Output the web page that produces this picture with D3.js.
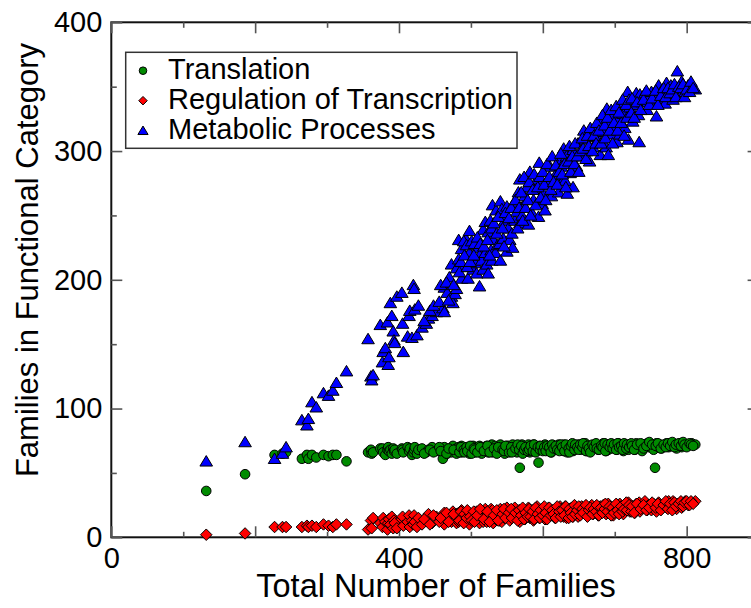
<!DOCTYPE html>
<html>
<head>
<meta charset="utf-8">
<script src="https://cdn.jsdelivr.net/npm/d3@7"></script>
<style>
  html, body { margin: 0; padding: 0; background: #fff; }
  svg { display: block; }
  text { font-family: "Liberation Sans", Arial, Helvetica, sans-serif; fill: #000; }
</style>
</head>
<body>
<svg id="chart" width="751" height="608"></svg>
<script>
// One entry per genome: total number of families, and the number of
// families in each functional category.
const totalFamilies = [
  132,186,227,238,243,265,272,274,279,285,
  295,302,308,313,327,357,361,362,364,374,
  377,378,381,384,385,386,388,390,392,393,
  394,397,404,405,406,412,414,415,418,420,
  421,422,425,427,432,438,441,446,452,461,
  463,463,467,470,473,473,475,478,480,480,
  483,483,487,487,489,493,496,498,498,503,
  506,508,510,512,512,515,517,517,520,520,
  522,524,524,527,528,529,529,530,531,534,
  535,537,540,541,541,543,545,547,550,550,
  552,554,558,560,561,564,566,568,568,571,
  573,575,578,580,582,585,587,589,592,594,
  595,599,601,603,608,610,612,617,622,624,
  626,629,629,631,633,634,638,640,642,642,
  647,649,654,657,659,661,665,668,670,673,
  677,680,682,684,688,689,691,691,696,698,
  700,703,705,707,710,712,714,718,719,721,
  725,728,730,733,734,735,738,742,745,747,
  751,754,756,758,761,763,765,770,772,775,
  778,781,786,787,791,793,798,802,807,812,
  435,443,448,456,458,466,469,476,484,486,
  490,491,494,495,499,501,504,505,509,513,
  518,523,526,532,536,538,544,546,548,553,
  556,557,562,565,567,570,572,574,576,579,
  581,583,586,588,590,593,596,597,600,602,
  604,606,609,611,613,615,618,620,623,625,
  627,630,632,636,637,639,641,644,645,648,
  650,652,655,656,660,662,664,666,669,671,
  674,675,678,681,683,686,687,690,693,695,
  697,699,702,704,706,709,711,713,716,717,
  720,723,724,727,731,736,740,744,748,752,
  757,760,764,768,771,774,777,780,783,785,
  789,792,795,797,800,804,806,809
];

const translation = [
  36,49,64,65,66,61,64,61,64,62,
  64,63,64,64,59,66,68,65,66,69,
  69,66,64,68,70,67,68,65,69,67,
  68,65,69,68,66,70,67,69,64,66,
  68,70,65,68,69,66,68,70,67,61,
  68,70,65,67,69,66,71,68,69,65,
  70,67,71,66,69,68,70,65,67,71,
  66,70,69,68,71,65,68,70,67,69,
  71,66,68,70,67,72,68,66,69,71,
  69,66,71,68,72,67,70,65,71,68,
  71,67,72,68,70,66,71,54,69,72,
  67,70,68,72,66,70,72,69,67,58,
  71,68,69,72,67,71,66,70,72,68,
  69,72,67,70,71,66,69,72,70,67,
  70,72,68,71,73,67,71,69,70,72,
  68,71,69,73,67,71,70,68,72,70,
  72,68,73,69,71,67,72,70,68,71,
  71,68,73,70,69,72,67,71,73,70,
  71,68,54,73,70,72,69,71,73,70,
  71,73,69,72,73,70,72,71,73,72,
  65,68,66,70,67,65,69,68,66,70,
  68,66,70,67,71,65,69,68,66,70,
  67,71,66,69,65,70,68,67,71,66,
  70,66,69,72,68,71,65,68,70,67,
  68,71,67,72,66,70,68,71,67,70,
  67,71,70,66,72,69,71,68,67,72,
  70,67,72,69,66,71,73,68,72,70,
  68,72,70,73,67,71,69,66,72,70,
  73,69,68,71,70,73,67,72,70,73,
  69,72,68,73,70,71,68,73,69,72,
  70,73,71,68,72,73,69,71,74,72,
  71,73,69,72,70,73,71,74,70,72,
  73,71,74,72,70,73,72,71
];

const regulation = [
  2,3,8,8,8,8,9,8,9,8,
  10,9,8,10,10,6,13,7,15,11,
  8,15,12,6,11,14,10,16,7,13,
  11,7,14,16,9,12,17,8,13,10,
  17,12,8,15,10,13,18,11,16,14,
  10,19,14,17,12,15,20,13,18,11,
  19,12,15,21,13,17,19,10,18,14,
  13,20,16,11,21,15,18,12,22,16,
  12,19,15,18,22,13,16,21,11,17,
  14,19,13,22,16,12,20,15,18,23,
  16,13,20,17,23,14,19,12,21,15,
  20,14,18,23,15,21,13,17,24,19,
  15,22,18,14,23,17,20,15,21,24,
  22,16,19,24,15,21,18,23,16,20,
  21,16,24,19,22,17,20,25,18,23,
  17,24,20,25,18,22,26,19,23,17,
  22,25,19,26,23,18,24,21,27,20,
  24,19,26,22,27,20,23,28,21,25,
  21,26,23,20,27,25,22,26,23,28,
  24,28,22,26,27,23,28,25,27,28,
  14,10,17,12,15,19,12,18,13,20,
  11,18,15,21,16,13,20,12,17,22,
  14,20,12,17,21,13,18,22,15,19,
  22,15,19,13,21,17,23,14,19,16,
  22,16,20,14,23,18,15,21,17,24,
  19,14,23,17,21,18,15,24,20,16,
  21,17,24,15,22,19,16,25,18,21,
  24,17,22,19,25,16,21,23,18,22,
  20,25,17,23,19,22,26,20,24,17,
  23,19,26,21,18,24,20,22,27,21,
  25,20,24,19,26,22,25,21,23,27,
  23,26,21,25,28,22,26,21,27,24,
  26,28,24,27,28,25,28,26
];

const metabolic = [
  59,74,61,65,70,91,87,92,105,101,
  112,110,114,120,129,154,125,122,126,165,
  136,144,147,167,134,140,182,172,160,153,
  151,187,190,166,144,156,172,176,155,196,
  193,177,157,180,163,166,170,172,175,178,
  175,194,190,202,187,212,182,189,193,209,
  216,231,224,201,210,232,201,238,221,208,
  213,205,225,195,219,215,208,239,221,245,
  212,205,237,246,223,215,240,258,231,221,
  254,227,228,215,261,255,232,246,222,257,
  240,231,225,260,246,253,268,244,278,250,
  258,265,272,243,284,252,262,270,278,249,
  291,259,267,254,274,288,265,281,268,293,
  288,278,302,277,296,267,283,292,301,272,
  288,306,296,316,309,300,292,311,303,319,
  310,297,325,315,303,333,322,297,313,328,
  319,307,324,313,336,329,318,346,309,334,
  323,336,345,328,307,344,338,345,332,341,
  346,337,343,327,351,340,347,337,353,344,
  351,340,347,362,343,354,346,351,351,348,
  168,176,180,183,196,198,184,196,206,214,
  230,219,227,210,214,230,219,228,233,228,
  226,231,219,244,236,249,240,226,252,248,
  256,236,262,240,256,268,246,280,256,262,
  276,250,270,282,258,272,280,264,284,274,
  262,290,280,270,296,276,289,274,284,298,
  282,290,272,292,304,284,296,290,306,296,
  284,300,310,302,294,312,304,318,300,312,
  306,322,316,306,328,320,310,326,316,332,
  306,322,335,316,330,322,340,312,336,326,
  340,330,341,326,338,332,340,347,336,341,
  347,336,343,349,342,349,345,348,352,342,
  350,349,352,342,348,346,354,349
];

const seriesNames = ["Translation", "Regulation of Transcription", "Metabolic Processes"];
const xMajorTicks = [0, 200, 400, 600, 800];
const xLabelledTicks = [0, 400, 800];
const xMinorTicks = [100, 300, 500, 700];
const yMajorTicks = [0, 100, 200, 300, 400];
const yMinorTicks = [50, 150, 250, 350];

const svg = d3.select("#chart");

const x = d3.scaleLinear().domain([0, 900]).range([111.3, 758.6]);
const y = d3.scaleLinear().domain([0, 400]).range([537.3, 22.3]);

// Marker shapes: up-triangle and square-on-point diamond
const triangleUp = {
  draw(ctx, size) {
    const s = Math.sqrt(size);
    ctx.moveTo(0, -0.55 * s);
    ctx.lineTo(0.6 * s, 0.45 * s);
    ctx.lineTo(-0.6 * s, 0.45 * s);
    ctx.closePath();
  }
};
const diamond = {
  draw(ctx, size) {
    const s = Math.sqrt(size) / 2;
    ctx.moveTo(0, -s);
    ctx.lineTo(s, 0);
    ctx.lineTo(0, s);
    ctx.lineTo(-s, 0);
    ctx.closePath();
  }
};

const styles = [
  { fill: "#008b00", shape: d3.symbolCircle, size: Math.PI * 4.8 * 4.8, legendSize: Math.PI * 3.8 * 3.8 },
  { fill: "#ff0000", shape: diamond, size: 11.5 * 11.5, legendSize: 8.5 * 8.5 },
  { fill: "#0000ff", shape: triangleUp, size: 10.5 * 10.5, legendSize: 8.5 * 8.5 }
];
const values = [translation, regulation, metabolic];

// Frame
svg.append("rect")
  .attr("x", x(0)).attr("y", y(400))
  .attr("width", x(900) - x(0)).attr("height", y(0) - y(400))
  .attr("fill", "none").attr("stroke", "#111").attr("stroke-width", 2);

function styleAxis(g) {
  g.select(".domain").remove();
  g.selectAll(".tick line").attr("stroke", "#555").attr("stroke-width", 1.6);
  g.selectAll(".tick text").style("font-size", "29px").attr("fill", "#000");
}

// Bottom axis
svg.append("g").attr("transform", `translate(0,${y(0)})`)
  .call(d3.axisBottom(x).tickValues(xMajorTicks).tickSizeInner(-11).tickSizeOuter(0)
    .tickPadding(10).tickFormat(d => xLabelledTicks.includes(d) ? d : ""))
  .call(styleAxis);
svg.append("g").attr("transform", `translate(0,${y(0)})`)
  .call(d3.axisBottom(x).tickValues(xMinorTicks).tickSizeInner(-5.5).tickSizeOuter(0).tickFormat(""))
  .call(styleAxis);
// Top axis
svg.append("g").attr("transform", `translate(0,${y(400)})`)
  .call(d3.axisTop(x).tickValues(xMajorTicks).tickSizeInner(-11).tickSizeOuter(0).tickFormat(""))
  .call(styleAxis);
svg.append("g").attr("transform", `translate(0,${y(400)})`)
  .call(d3.axisTop(x).tickValues(xMinorTicks).tickSizeInner(-5.5).tickSizeOuter(0).tickFormat(""))
  .call(styleAxis);
// Left axis
svg.append("g").attr("transform", `translate(${x(0)},0)`)
  .call(d3.axisLeft(y).tickValues(yMajorTicks).tickSizeInner(-11).tickSizeOuter(0).tickPadding(9))
  .call(styleAxis);
svg.append("g").attr("transform", `translate(${x(0)},0)`)
  .call(d3.axisLeft(y).tickValues(yMinorTicks).tickSizeInner(-5.5).tickSizeOuter(0).tickFormat(""))
  .call(styleAxis);
// Right axis
svg.append("g").attr("transform", `translate(${x(900)},0)`)
  .call(d3.axisRight(y).tickValues(yMajorTicks).tickSizeInner(-11).tickSizeOuter(0).tickFormat(""))
  .call(styleAxis);
svg.append("g").attr("transform", `translate(${x(900)},0)`)
  .call(d3.axisRight(y).tickValues(yMinorTicks).tickSizeInner(-5.5).tickSizeOuter(0).tickFormat(""))
  .call(styleAxis);

// Points, one layer per series
styles.forEach((st, i) => {
  const sym = d3.symbol().type(st.shape).size(st.size);
  svg.append("g")
    .selectAll("path")
    .data(totalFamilies.map((t, j) => [t, values[i][j]]))
    .join("path")
    .attr("d", sym)
    .attr("transform", d => `translate(${x(d[0])},${y(d[1])})`)
    .attr("fill", st.fill)
    .attr("stroke", "#000")
    .attr("stroke-width", 1);
});

// Axis titles
svg.append("text")
  .attr("x", 436).attr("y", 597)
  .attr("text-anchor", "middle")
  .style("font-size", "32.5px")
  .text("Total Number of Families");
svg.append("text")
  .attr("transform", "translate(38,260) rotate(-90)")
  .attr("text-anchor", "middle")
  .style("font-size", "31px")
  .text("Families in Functional Category");

// Legend
const legend = svg.append("g");
legend.append("rect")
  .attr("x", 125.7).attr("y", 52.3).attr("width", 391.3).attr("height", 96)
  .attr("fill", "#fff").attr("stroke", "#333").attr("stroke-width", 1.5);
seriesNames.forEach((name, i) => {
  const cy = 70.7 + i * 30;
  legend.append("path")
    .attr("d", d3.symbol().type(styles[i].shape).size(styles[i].legendSize)())
    .attr("transform", `translate(143,${cy})`)
    .attr("fill", styles[i].fill).attr("stroke", "#000").attr("stroke-width", 1);
  legend.append("text")
    .attr("x", 168).attr("y", cy + 8.3)
    .style("font-size", "29px")
    .text(name);
});
</script>
</body>
</html>
